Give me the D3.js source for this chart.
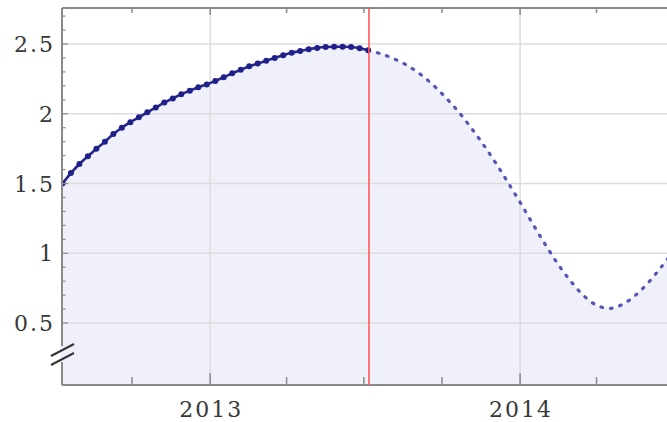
<!DOCTYPE html>
<html>
<head>
<meta charset="utf-8">
<script src="https://cdn.jsdelivr.net/npm/d3@7"></script>
<style>
  html, body { margin: 0; padding: 0; background: #fff; }
  svg { display: block; }
  .lbl { font-family: "DejaVu Serif", serif; font-size: 22px; fill: #383838; letter-spacing: 2px; }
</style>
</head>
<body>
<svg width="667" height="422"></svg>
<script>
// observed values, roughly every 10 days
const obsDates = [
  "2012-07-11", "2012-07-21", "2012-07-31", "2012-08-10", "2012-08-20", "2012-08-30",
  "2012-09-09", "2012-09-19", "2012-09-29", "2012-10-09", "2012-10-19", "2012-10-29",
  "2012-11-08", "2012-11-18", "2012-11-28", "2012-12-08", "2012-12-18", "2012-12-28",
  "2013-01-07", "2013-01-17", "2013-01-27", "2013-02-06", "2013-02-16", "2013-02-26",
  "2013-03-08", "2013-03-18", "2013-03-28", "2013-04-07", "2013-04-17", "2013-04-27",
  "2013-05-07", "2013-05-17", "2013-05-27", "2013-06-06", "2013-06-16", "2013-06-26",
  "2013-07-06"
];
const obsValues = [
  1.50, 1.575, 1.64, 1.695, 1.75, 1.80,
  1.855, 1.90, 1.94, 1.975, 2.01, 2.045,
  2.08, 2.11, 2.14, 2.165, 2.19, 2.21,
  2.235, 2.262, 2.29, 2.315, 2.34, 2.36,
  2.38, 2.40, 2.42, 2.437, 2.45, 2.462,
  2.472, 2.478, 2.48, 2.48, 2.478, 2.47,
  2.455
];

// forecast continuation
const fcDates = [
  "2013-07-06", "2013-07-21", "2013-08-05", "2013-08-20", "2013-09-04", "2013-09-19",
  "2013-10-04", "2013-10-19", "2013-11-03", "2013-11-18", "2013-12-03", "2013-12-18",
  "2014-01-02", "2014-01-17", "2014-02-01", "2014-02-16", "2014-03-03", "2014-03-18",
  "2014-04-02", "2014-04-17", "2014-05-02", "2014-05-17", "2014-06-01", "2014-06-16",
  "2014-07-01"
];
const fcValues = [
  2.455, 2.43, 2.395, 2.35, 2.29, 2.215,
  2.125, 2.025, 1.91, 1.785, 1.65, 1.505,
  1.355, 1.20, 1.05, 0.91, 0.79, 0.69,
  0.625, 0.605, 0.635, 0.70, 0.79, 0.90,
  1.02
];

const yTicks = [0.5, 1, 1.5, 2, 2.5];
const yMinorTicks = [0.6, 0.7, 0.8, 0.9, 1.1, 1.2, 1.3, 1.4, 1.6, 1.7, 1.8, 1.9,
  2.1, 2.2, 2.3, 2.4, 2.6, 2.7];
const cutDate = "2013-07-07";

const parse = d3.utcParse("%Y-%m-%d");
const obs = obsDates.map((d, i) => ({ date: parse(d), value: obsValues[i] }));
const fc = fcDates.map((d, i) => ({ date: parse(d), value: fcValues[i] }));

const svg = d3.select("svg");
const pLeft = 62, pRight = 667, pTop = 8, pBottom = 385;

const x = d3.scaleUtc()
  .domain([new Date(Date.UTC(2012, 6, 10, 12)), new Date(Date.UTC(2014, 5, 23))])
  .range([pLeft, pRight]);
const y = d3.scaleLinear()
  .domain([0.056, 2.758])
  .range([pBottom, pTop]);

svg.append("clipPath").attr("id", "plot")
  .append("rect").attr("x", pLeft).attr("y", pTop)
  .attr("width", pRight - pLeft).attr("height", pBottom - pTop);

const plot = svg.append("g").attr("clip-path", "url(#plot)");

// filling under the curve
const area = d3.area()
  .x(d => x(d.date)).y0(pBottom).y1(d => y(d.value))
  .curve(d3.curveCatmullRom);
plot.append("path")
  .datum(obs.concat(fc.slice(1)))
  .attr("d", area)
  .attr("fill", "#f0f0fa");

// grid
plot.append("g").selectAll("line")
  .data(yTicks).enter().append("line")
  .attr("x1", pLeft).attr("x2", pRight)
  .attr("y1", d => y(d)).attr("y2", d => y(d))
  .attr("stroke", "#dcdcdc").attr("stroke-width", 1.5);

const years = [parse("2013-01-01"), parse("2014-01-01")];
plot.append("g").selectAll("line")
  .data(years).enter().append("line")
  .attr("x1", d => x(d)).attr("x2", d => x(d))
  .attr("y1", pTop).attr("y2", pBottom)
  .attr("stroke", "#dcdcdc").attr("stroke-width", 1.5);

// forecast (dotted)
const line = d3.line()
  .x(d => x(d.date)).y(d => y(d.value))
  .curve(d3.curveCatmullRom);
plot.append("path")
  .datum(fc)
  .attr("d", line)
  .attr("fill", "none")
  .attr("stroke", "#5656b6")
  .attr("stroke-width", 3.2)
  .attr("stroke-linecap", "round")
  .attr("stroke-dasharray", "1.6 8");

// observed line + dots
plot.append("path")
  .datum(obs)
  .attr("d", line)
  .attr("fill", "none")
  .attr("stroke", "#26268d")
  .attr("stroke-width", 2.6);
plot.append("g").selectAll("circle")
  .data(obs).enter().append("circle")
  .attr("cx", d => x(d.date)).attr("cy", d => y(d.value))
  .attr("r", 3)
  .attr("fill", "#20208a");

// frame + ticks
const frame = svg.append("g").attr("stroke", "#8a8a8a");
frame.append("line").attr("x1", pLeft).attr("x2", pRight)
  .attr("y1", pBottom).attr("y2", pBottom).attr("stroke-width", 2);
frame.append("line").attr("x1", pLeft).attr("x2", pRight)
  .attr("y1", pTop).attr("y2", pTop).attr("stroke-width", 2);
frame.append("line").attr("x1", pLeft).attr("x2", pLeft)
  .attr("y1", pTop).attr("y2", pBottom).attr("stroke-width", 2);

const quarters = x.ticks(d3.utcMonth.every(3));
const isYear = d => d.getUTCMonth() === 0;
frame.append("g").selectAll("line")
  .data(quarters).enter().append("line")
  .attr("x1", d => x(d)).attr("x2", d => x(d))
  .attr("y1", pBottom).attr("y2", d => pBottom - (isYear(d) ? 12 : 8))
  .attr("stroke-width", 1.5);
frame.append("g").selectAll("line")
  .data(quarters).enter().append("line")
  .attr("x1", d => x(d)).attr("x2", d => x(d))
  .attr("y1", pTop).attr("y2", d => pTop + (isYear(d) ? 7 : 5))
  .attr("stroke-width", 1.5);
frame.append("g").selectAll("line")
  .data(yMinorTicks).enter().append("line")
  .attr("x1", pLeft).attr("x2", pLeft + 3.5)
  .attr("y1", d => y(d)).attr("y2", d => y(d))
  .attr("stroke-width", 1.2);
frame.append("g").selectAll("line")
  .data(yTicks).enter().append("line")
  .attr("x1", pLeft).attr("x2", pLeft + 6)
  .attr("y1", d => y(d)).attr("y2", d => y(d))
  .attr("stroke-width", 1.2);

// axis break
const brk = svg.append("g");
brk.append("line").attr("x1", pLeft).attr("x2", pLeft)
  .attr("y1", 346).attr("y2", 362)
  .attr("stroke", "#f0f0fa").attr("stroke-width", 3);
[350, 359].forEach(cy => {
  brk.append("line")
    .attr("x1", pLeft - 11).attr("y1", cy + 6)
    .attr("x2", pLeft + 12).attr("y2", cy - 6)
    .attr("stroke", "#333").attr("stroke-width", 2);
});

// cut line
svg.append("line")
  .attr("x1", x(parse(cutDate))).attr("x2", x(parse(cutDate)))
  .attr("y1", pTop).attr("y2", pBottom)
  .attr("stroke", "#ff5a5a").attr("stroke-width", 1.6);

// labels
svg.append("g").selectAll("text")
  .data(yTicks).enter().append("text")
  .attr("class", "lbl")
  .attr("x", 55).attr("y", d => y(d) + 8)
  .attr("text-anchor", "end")
  .text(d => d);
svg.append("g").selectAll("text")
  .data(years).enter().append("text")
  .attr("class", "lbl")
  .attr("x", d => x(d) + 1).attr("y", 417)
  .attr("text-anchor", "middle")
  .text(d => d.getUTCFullYear());
</script>
</body>
</html>
